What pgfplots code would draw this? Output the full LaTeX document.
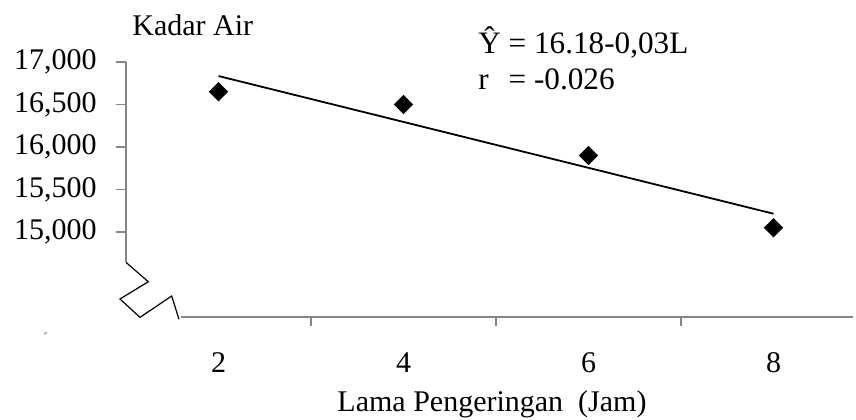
\documentclass[border=0pt]{standalone}
\usepackage{pgfplots}
\pgfplotsset{compat=1.18}
\usepackage{fontspec}
\setmainfont{Liberation Serif}
\definecolor{axgray}{RGB}{134,134,134}
\begin{document}
\fontsize{15}{18}\selectfont
\begin{tikzpicture}
\path[use as bounding box] (-63pt,-51pt) rectangle (365pt,158.5pt);
\begin{axis}[
  at={(0,0)}, anchor=south west,
  scale only axis, width=363.5pt, height=127.5pt,
  xmin=1, xmax=8.859, ymin=14000, ymax=17000,
  clip=false,
  axis line style={draw=none},
  tick align=outside, xtick pos=bottom, ytick pos=left,
  major tick length=5pt,
  xtick={2,4,6,8},
  xtick style={draw=none},
  ytick={15000,15500,16000,16500,17000},
  ytick style={axgray, line width=0.75pt},
  /pgf/number format/assume math mode=true,
  /pgf/number format/.cd, 1000 sep={,}, fixed, /pgfplots/.cd,
  tick label style={font=\fontsize{15}{18}\selectfont},
  xticklabel style={anchor=base, yshift=-22.5pt},
  yticklabel style={anchor=east, xshift=-4.5pt},
  scaled y ticks=false,
]
% axis lines (drawn as in the reference, with the break)
\draw[axgray, line width=0.75pt] (axis cs:1,17000) -- (axis cs:1,14643);
\draw[axgray, line width=0.75pt] (axis cs:1.59,14000) -- (axis cs:8.859,14000);
\draw[axgray, line width=0.75pt] (axis cs:3,14000) -- ([yshift=-4.5pt]axis cs:3,14000);
\draw[axgray, line width=0.75pt] (axis cs:5,14000) -- ([yshift=-4.5pt]axis cs:5,14000);
\draw[axgray, line width=0.75pt] (axis cs:7,14000) -- ([yshift=-4.5pt]axis cs:7,14000);
\draw[black, line width=0.6pt] (axis cs:1,14643) -- (axis cs:1.241,14415) -- (axis cs:0.935,14212) -- (axis cs:1.151,13996) -- (axis cs:1.494,14247) -- (axis cs:1.573,13973);
\draw[axgray, line width=0.5pt] (axis cs:0.113,13800) -- (axis cs:0.145,13820);
% trend line
\addplot[black, line width=0.9pt, no marks] coordinates {(2,16835) (8,15215)};
% data
\addplot[only marks, mark=square*, mark size=3.2pt, mark options={rotate=45, fill=black, draw=black}] coordinates {
 (2,16650) (4,16500) (6,15900) (8,15050)
};
\end{axis}
\node[anchor=base west, inner sep=0pt] at (3pt,141pt) {Kadar Air};
\node[anchor=base west, inner sep=0pt, font=\fontsize{15.6}{18}\selectfont] at (176pt,132pt) {Ŷ = 16.18-0,03L};
\node[anchor=base west, inner sep=0pt, font=\fontsize{15.6}{18}\selectfont] at (176pt,114pt) {r\hspace{0.639em}= -0.026};
\node[anchor=base, inner sep=0pt] at (183pt,-47pt) {Lama Pengeringan \ (Jam)};
\end{tikzpicture}
\end{document}
